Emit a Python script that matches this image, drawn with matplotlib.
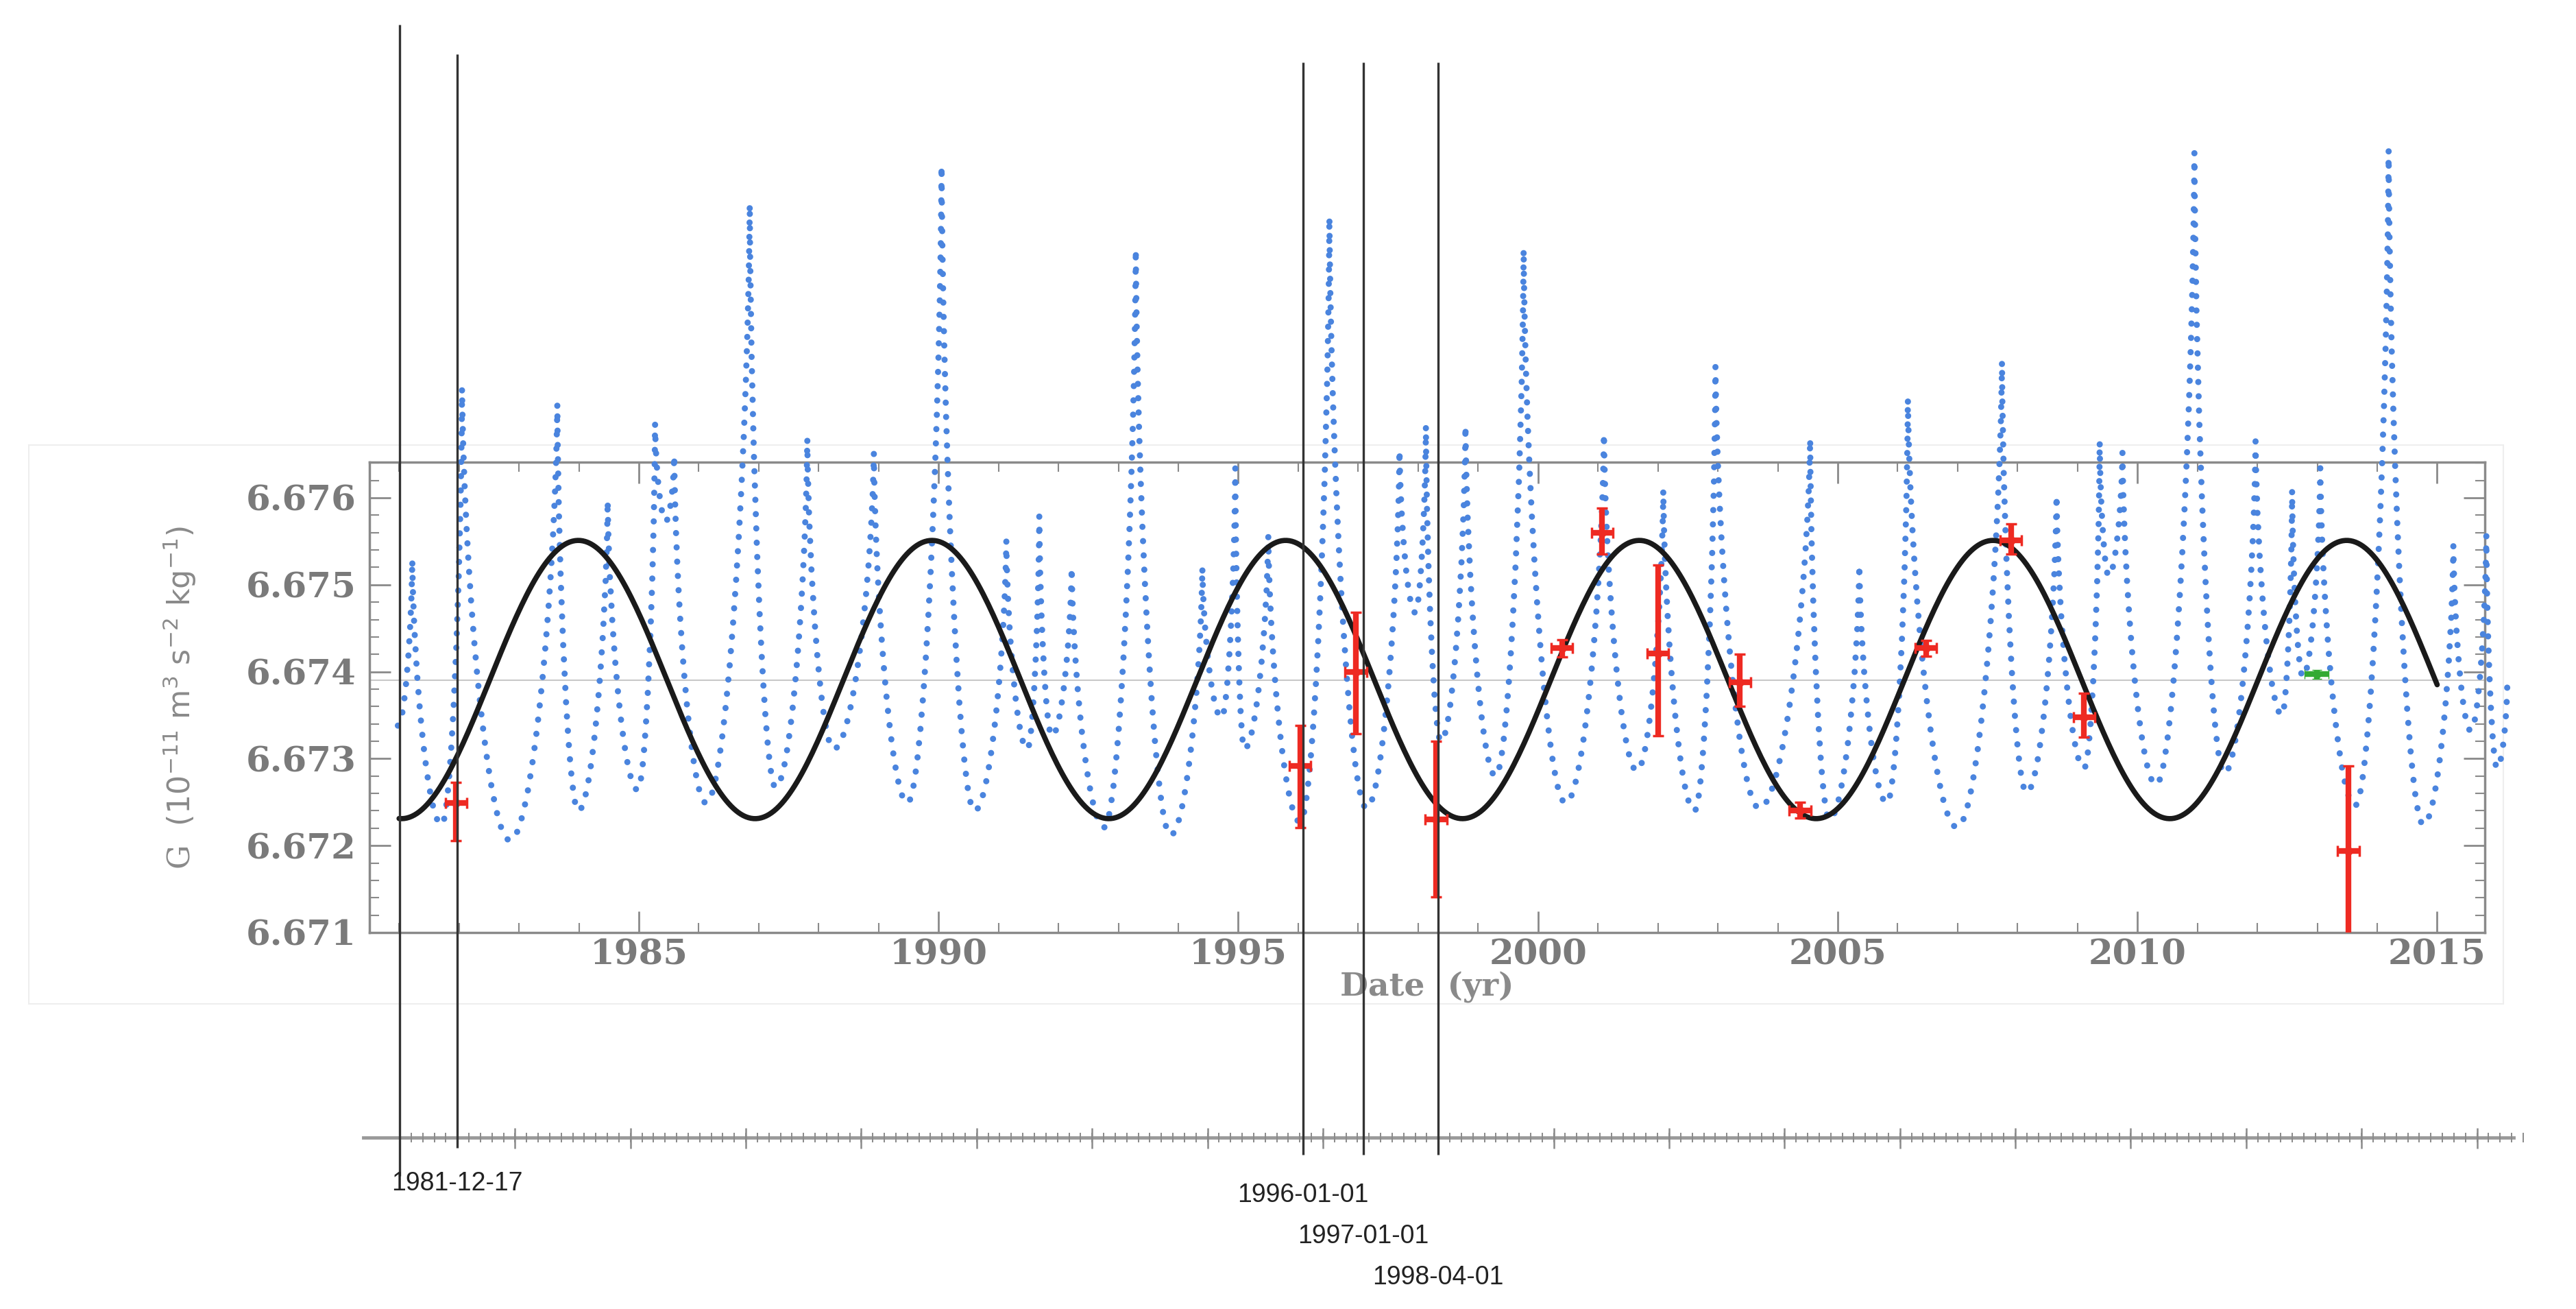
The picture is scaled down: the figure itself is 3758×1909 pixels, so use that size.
import numpy as np
import matplotlib
matplotlib.use("Agg")
import matplotlib.pyplot as plt
from matplotlib.path import Path
from matplotlib.patches import PathPatch, Rectangle
from matplotlib.ticker import MultipleLocator

# ---------------- data ----------------
# blue oscillating series: extrema (year, G)
blue_years = [1980.98, 1981.22, 1981.71, 1982.05, 1982.85, 1983.64, 1983.99, 1984.48, 1984.98,
              1985.27, 1985.45, 1985.59, 1986.12, 1986.85, 1987.28, 1987.81, 1988.25, 1988.92,
              1989.48, 1990.05, 1990.60, 1991.13, 1991.48, 1991.68, 1991.89, 1992.22, 1992.76,
              1993.29, 1993.87, 1994.40, 1994.72, 1994.95, 1995.10, 1995.50, 1996.03, 1996.52,
              1997.14, 1997.69, 1997.95, 1998.13, 1998.38, 1998.79, 1999.29, 1999.76, 2000.46,
              2001.10, 2001.65, 2002.09, 2002.61, 2002.96, 2003.69, 2004.54, 2004.86, 2005.36,
              2005.82, 2006.17, 2006.99, 2007.74, 2008.15, 2008.65, 2009.11, 2009.37, 2009.52,
              2009.75, 2010.31, 2010.95, 2011.45, 2011.97, 2012.41, 2012.58, 2012.76, 2013.05,
              2013.63, 2014.19, 2014.77, 2015.27, 2015.56, 2015.82, 2016.00, 2016.17]
blue_G = [6.67338, 6.67529, 6.67224, 6.67726, 6.67206, 6.67708, 6.67240, 6.67597, 6.67264,
          6.67686, 6.67573, 6.67649, 6.67249, 6.67938, 6.67267, 6.67668, 6.67311, 6.67652,
          6.67249, 6.67982, 6.67240, 6.67551, 6.67311, 6.67579, 6.67326, 6.67520, 6.67221,
          6.67886, 6.67212, 6.67520, 6.67347, 6.67634, 6.67311, 6.67557, 6.67227, 6.67923,
          6.67243, 6.67655, 6.67468, 6.67683, 6.67320, 6.67683, 6.67280, 6.67886, 6.67249,
          6.67674, 6.67286, 6.67609, 6.67240, 6.67751, 6.67243, 6.67668, 6.67230, 6.67523,
          6.67249, 6.67714, 6.67221, 6.67757, 6.67261, 6.67603, 6.67289, 6.67665, 6.67510,
          6.67652, 6.67270, 6.67997, 6.67283, 6.67665, 6.67350, 6.67609, 6.67394, 6.67634,
          6.67246, 6.68000, 6.67224, 6.67545, 6.67332, 6.67557, 6.67289, 6.67388]

# fitted periodic model (black curve)
sine_mean, sine_amp, sine_period, sine_peak = 6.67391, 0.00160, 5.90, 1983.99
sine_start, sine_end = 1981.0, 2015.0

# measurements (red) and one green
meas_year = [1981.95, 1996.03, 1996.96, 1998.30, 2000.40, 2001.07, 2002.00, 2003.37,
             2004.37, 2006.47, 2007.89, 2009.11, 2013.52]
meas_G = [6.67249, 6.67292, 6.67400, 6.67230, 6.67427, 6.67560, 6.67421, 6.67388,
          6.67240, 6.67427, 6.67551, 6.67348, 6.67194]
meas_lo = [6.67206, 6.67221, 6.67329, 6.67141, 6.67417, 6.67535, 6.67326, 6.67360,
           6.67232, 6.67418, 6.67535, 6.67325, 6.67050]
meas_hi = [6.67273, 6.67338, 6.67468, 6.67320, 6.67437, 6.67588, 6.67523, 6.67420,
           6.67250, 6.67436, 6.67570, 6.67375, 6.67292]
green_year, green_G, green_err = 2012.99, 6.67397, 0.00005

# timeline events (days since 1981-01-01)
event_days = [0, 350, 5478, 5844, 6299]
event_labels = ["", "1981-12-17", "1996-01-01", "1997-01-01", "1998-04-01"]

# ---------------- figure ----------------
W, H = 3758, 1909
fig = plt.figure(figsize=(W / 100, H / 100), dpi=100)

def fx(px): return px / W
def fy(py): return 1 - py / H

bg = fig.add_axes([0, 0, 1, 1], zorder=0)
bg.set_xlim(0, W); bg.set_ylim(H, 0); bg.axis("off")
bg.add_patch(Rectangle((42, 649), 3610, 815, fill=False, ec="#eeeeee", lw=1.5))

ax = fig.add_axes([fx(539), fy(1360), fx(3625 - 539), (1360 - 674) / H], zorder=2)
ax.set_facecolor("none")
ax.set_xlim(1980.506, 2015.795)
ax.set_ylim(6.6710, 6.67641)

gray = "#8a8a8a"
for s in ax.spines.values():
    s.set_color(gray); s.set_linewidth(2.5)
ax.axhline(6.67390, color="#c8c8c8", lw=1.5, zorder=1)

ax.xaxis.set_major_locator(MultipleLocator(5))
ax.xaxis.set_minor_locator(MultipleLocator(1))
ax.yaxis.set_major_locator(MultipleLocator(0.001))
ax.yaxis.set_minor_locator(MultipleLocator(0.0002))
ax.tick_params(which="both", direction="in", top=True, right=True, colors=gray)
ax.tick_params(which="major", length=22, width=2)
ax.tick_params(which="minor", length=10, width=1.5)
ax.tick_params(axis="y", pad=14)
ax.tick_params(axis="x", pad=6)
yt = np.arange(6.671, 6.6765, 0.001)
ax.set_yticks(yt)
ax.set_yticklabels([f"{v:.3f}" for v in yt])
ax.set_xticks([1985, 1990, 1995, 2000, 2005, 2010, 2015])
for lab in ax.get_xticklabels() + ax.get_yticklabels():
    lab.set_fontfamily("DejaVu Serif"); lab.set_fontweight("bold")
    lab.set_fontsize(37); lab.set_color("#7a7a7a")

# blue series as smooth dotted path through extrema (sharp peaks, round troughs)
verts = [(blue_years[0], blue_G[0])]
codes = [Path.MOVETO]
for i in range(len(blue_years) - 1):
    x0, y0, x1, y1 = blue_years[i], blue_G[i], blue_years[i + 1], blue_G[i + 1]
    dx = x1 - x0
    if y1 > y0:
        c1 = (x0 + 0.45 * dx, y0)
        c2 = (x1 - 0.05 * dx, y1 - 0.45 * (y1 - y0))
    else:
        c1 = (x0 + 0.05 * dx, y0 - 0.45 * (y0 - y1))
        c2 = (x1 - 0.45 * dx, y1)
    verts += [c1, c2, (x1, y1)]
    codes += [Path.CURVE4] * 3
ax.add_patch(PathPatch(Path(verts, codes), transform=ax.transData, fill=False,
                       ec="#4a84de", lw=6.5, linestyle=(0, (0.01, 2.3)),
                       capstyle="round", clip_on=False, zorder=3))

# black model curve
t = np.linspace(sine_start, sine_end, 800)
ax.plot(t, sine_mean + sine_amp * np.cos(2 * np.pi * (t - sine_peak) / sine_period),
        color="#1a1a1a", lw=5.5, zorder=4, solid_capstyle="round")

# measurements
my = np.array(meas_G)
yerr = np.array([my - np.array(meas_lo), np.array(meas_hi) - my])
ax.errorbar(meas_year, my, yerr=yerr, xerr=0.18, fmt="o", ms=8, color="#ee2a22",
            elinewidth=6, capsize=6, capthick=2.5, zorder=5)
ax.errorbar([green_year], [green_G], yerr=green_err, xerr=0.2, fmt="o", ms=8,
            color="#33aa33", elinewidth=6, capsize=5, zorder=5)

ax.set_ylabel(r"G  $(10^{-11}\ \mathrm{m}^{3}\ \mathrm{s}^{-2}\ \mathrm{kg}^{-1})$",
              fontsize=32, color="#8a8a8a", family="DejaVu Serif", labelpad=50)
ax.set_xlabel("Date  (yr)", fontsize=34, color="#8a8a8a", family="DejaVu Serif",
              fontweight="bold", labelpad=0)

# ---------------- timeline overlay ----------------
tl = fig.add_axes([0, 0, 1, 1], zorder=6)
tl.set_facecolor("none")
px_per_day = 87.85 / 365.25
day0_px = 583
tl.set_xlim(-day0_px / px_per_day, (W - day0_px) / px_per_day)
tl.set_ylim(H, 0)
tl.axis("off")
axis_y = 1659
tl.plot([(530 - day0_px) / px_per_day, (3667 - day0_px) / px_per_day], [axis_y, axis_y],
        color="#9a9a9a", lw=3.5)
minor_days = np.arange(0, 12900, 70)
major_days = np.arange(0, 12900, 700)
tl.vlines(minor_days, axis_y - 7, axis_y + 7, color="#8a8a8a", lw=1.4)
tl.vlines(major_days, axis_y - 14, axis_y + 16, color="#8a8a8a", lw=1.8)

line_tops = [36, 79, 91, 91, 91]
line_bots = [1715, 1674, 1684, 1684, 1684]
label_ys = [1726, 1726, 1743, 1803, 1863]
for d, lab, y0, y1, ly in zip(event_days, event_labels, line_tops, line_bots, label_ys):
    tl.vlines(d, y0, y1, color="#333333", lw=2.4)
    if lab:
        tl.text(d, ly, lab, ha="center", va="center", fontsize=27,
                family=["Liberation Sans Narrow", "Liberation Sans", "DejaVu Sans"],
                color="#222222")

fig.savefig("out.png", dpi=100)
